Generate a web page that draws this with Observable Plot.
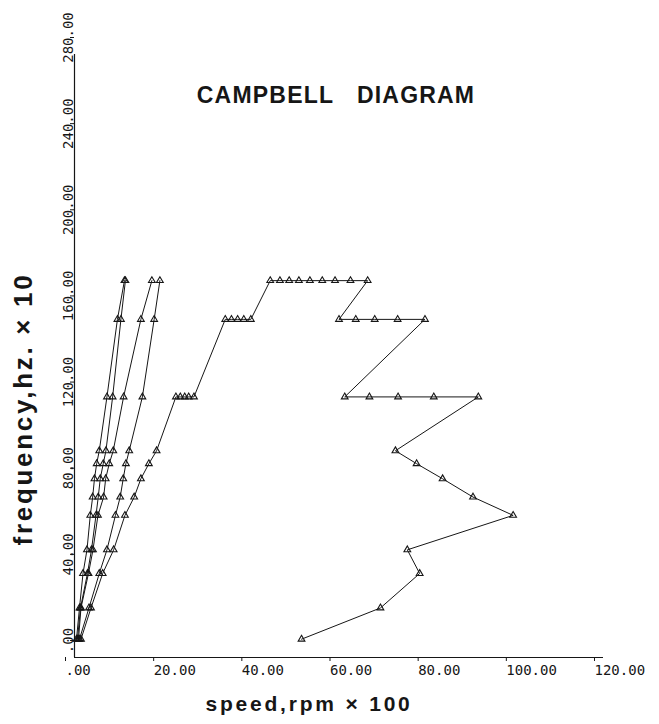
<!DOCTYPE html>
<html><head><meta charset="utf-8">
<script src="https://cdn.jsdelivr.net/npm/d3@7"></script>
<script src="https://cdn.jsdelivr.net/npm/@observablehq/plot@0.6"></script>
<style>
html,body{margin:0;padding:0;background:#fff;}
#chart{width:659px;height:724px;}
</style></head><body><div id="chart"></div>
<script>
// frequency levels (hz x 10) shared by the four steep curves
const freqLevels = [8.5, 23, 39, 50, 66, 74.5, 83, 90, 96, 121, 157, 175];
// speeds (rpm x 100) of the four steep curves at each level
const speedA = [0.45, 1.13, 1.93, 2.83, 3.58, 4.12, 4.53, 5.03, 5.62, 7.36, 9.74, 11.33];
const speedB = [0.68, 1.36, 2.94, 3.85, 4.87, 5.39, 5.84, 6.52, 7.13, 8.65, 10.53, 11.55];
const speedC = [0.91, 1.47, 3.17, 4.19, 5.32, 6.61, 7.07, 7.88, 8.79, 11.14, 15.06, 17.55];
const speedD = [1.13, 3.28, 5.62, 7.36, 9.29, 10.37, 11.05, 11.66, 12.41, 15.40, 18.07, 19.37];
// long zig-zag curve
const speedE = [1.47, 3.74, 6.39, 8.88, 11.44, 13.54, 15.06, 16.87, 18.62,
  23.0, 24.0, 25.0, 25.9, 27.1,
  34.2, 35.6, 37.0, 38.4, 40.0,
  44.4, 46.6, 48.7, 50.9, 53.4, 56.2, 59.1, 62.6, 66.5,
  60.0, 63.8, 68.1, 73.3, 79.5,
  61.3, 66.9, 73.4, 81.5, 91.6,
  72.8, 77.6, 83.5, 90.4, 99.5, 75.5, 78.3, 69.4, 51.5];
const freqE = [8.5, 23, 39, 50, 66, 74.5, 83, 90, 96,
  121, 121, 121, 121, 121,
  157, 157, 157, 157, 157,
  175, 175, 175, 175, 175, 175, 175, 175, 175,
  157, 157, 157, 157, 157,
  121, 121, 121, 121, 121,
  96, 90, 83, 74.5, 66, 50, 39, 23, 8.5];

const xTicks = [0, 20, 40, 60, 80, 100, 120];
const yTicks = [0, 40, 80, 120, 160, 200, 240, 280];
const titleText = "CAMPBELL\u00a0\u00a0\u00a0DIAGRAM";
const xLabel = "speed,rpm × 100";
const yLabel = "frequency,hz. × 10";

function series(name, speeds, freqs) {
  return speeds.map((s, i) => ({curve: name, speed: s, freq: freqs[i]}));
}
const rows = [
  ...series("A", speedA, freqLevels),
  ...series("B", speedB, freqLevels),
  ...series("C", speedC, freqLevels),
  ...series("D", speedD, freqLevels),
  ...series("E", speedE, freqE)
];

const fmt = d => d === 0 ? ".00" : d.toFixed(2);
const tickFont = "DejaVu Sans Mono";
const ink = "#161616";

const plot = Plot.plot({
  width: 659, height: 724,
  marginLeft: 74, marginRight: 56, marginTop: 54, marginBottom: 67,
  x: {domain: [0, 120]},
  y: {domain: [0, 280]},
  style: {background: "#fff", color: ink},
  marks: [
    Plot.ruleY([0], {stroke: ink, strokeWidth: 1.2}),
    Plot.ruleX([0], {stroke: ink, strokeWidth: 1.2}),
    Plot.axisX(xTicks, {tickSize: 4, tickPadding: 4, tickFormat: fmt, textAnchor: "start", dx: -9,
      fontSize: 14, fontFamily: tickFont, stroke: ink, fill: ink, label: null}),
    Plot.axisY(yTicks, {tickSize: 4, tickPadding: 2, tickFormat: fmt, tickRotate: -90, lineAnchor: "middle", textAnchor: "middle", dy: -17,
      fontSize: 14, fontFamily: tickFont, stroke: ink, fill: ink, label: null}),
    Plot.line(rows, {x: "speed", y: "freq", z: "curve", stroke: ink, strokeWidth: 1}),
    Plot.dot(rows, {x: "speed", y: "freq", symbol: "triangle", r: 2.5, stroke: ink, fill: "none", strokeWidth: 1.1}),
    Plot.text([titleText], {frameAnchor: "top", textAnchor: "middle", lineAnchor: "middle", dx: -3, dy: 41, fontSize: 23, fontWeight: "bold",
      fontFamily: "Liberation Sans", fill: ink}),
    Plot.text([xLabel], {frameAnchor: "bottom", textAnchor: "middle", lineAnchor: "middle", dx: -30, dy: 47, fontSize: 21, fontWeight: "bold",
      fontFamily: "Liberation Sans", fill: ink}),
    Plot.text([yLabel], {frameAnchor: "left", textAnchor: "middle", lineAnchor: "middle", dx: -51, dy: 53, rotate: -90, fontSize: 26, fontWeight: "bold",
      fontFamily: "Liberation Sans", fill: ink})
  ]
});
const spacing = new Map([[titleText, "1.2px"], [xLabel, "2.8px"], [yLabel, "2.7px"]]);
d3.select(plot).selectAll("text").each(function() {
  const s = spacing.get(this.textContent);
  if (s) this.style.letterSpacing = s;
});
document.getElementById("chart").appendChild(plot);
</script>
</body></html>
